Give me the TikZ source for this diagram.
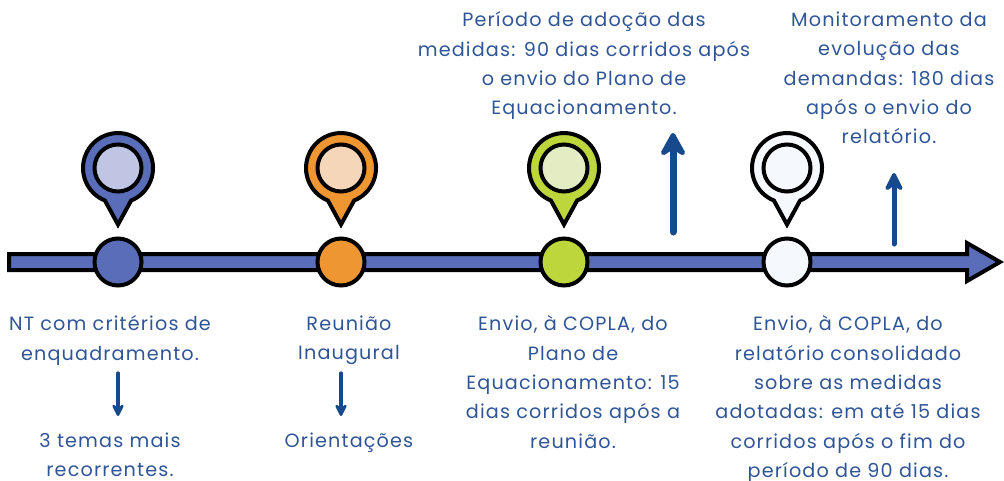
\documentclass[tikz,border=0pt]{standalone}
\usepackage{fontspec}
\setmainfont[LetterSpace=6]{Poppins}
\usetikzlibrary{arrows.meta}
\definecolor{axisblue}{HTML}{5A6DB8}
\definecolor{lightblue}{HTML}{BFC5E3}
\definecolor{orangec}{HTML}{EE9632}
\definecolor{lightorange}{HTML}{F5D6B8}
\definecolor{greenc}{HTML}{BCD63C}
\definecolor{lightgreen}{HTML}{E4ECC4}
\definecolor{whitec}{HTML}{F5F9FD}
\definecolor{txtblue}{HTML}{2F5597}
\definecolor{arrowblue}{HTML}{174A8C}
\tikzset{
  x=1pt,y=-1pt,
  label text/.style={inner sep=0pt,align=center,text=txtblue,anchor=north,font=\fontsize{19.2}{29.4}\selectfont},
  dot/.style={circle,draw=black,line width=4pt,minimum size=47pt,inner sep=0pt,fill=#1},
  inner dot/.style={circle,draw=black,line width=4pt,minimum size=47pt,inner sep=0pt,fill=#1},
  flow small/.style={draw=arrowblue,line width=3.2pt,line cap=round,-{Stealth[round,length=15pt,width=15pt,inset=5pt]}},
  flow mid/.style={draw=arrowblue,line width=5pt,line cap=round,-{Stealth[round,length=23pt,width=23pt,inset=8pt]}},
  flow big/.style={draw=arrowblue,line width=7pt,line cap=round,-{Stealth[round,length=29pt,width=32pt,inset=10pt]}},
  pin/.style={draw=black,line width=4pt,miter limit=10,fill=#1},
}
\newcommand{\pinshape}[2]{%
  \path[pin=#2] (#1-13.1,200.5) arc[start angle=248,end angle=-68,x radius=35,y radius=-35] -- (#1,224.5) -- cycle;
}
\begin{document}
\begin{tikzpicture}
\useasboundingbox (0,0) rectangle (1004,480);
% axis
\path[draw=black,line width=4pt,fill=axisblue,miter limit=10]
  (9,254) -- (967,254) -- (967,243) -- (1000,262) -- (967,281) -- (967,270) -- (9,270) -- cycle;
% pins
\pinshape{118}{axisblue}
\pinshape{341}{orangec}
\pinshape{564}{greenc}
\pinshape{787}{whitec}
\node[inner dot=lightblue] (p1) at (118,168) {};
\node[inner dot=lightorange] (p2) at (341,168) {};
\node[inner dot=lightgreen] (p3) at (564,168) {};
\node[inner dot=whitec] (p4) at (787,168) {};
% axis dots
\node[dot=axisblue] (d1) at (118,262) {};
\node[dot=orangec] (d2) at (341,262) {};
\node[dot=greenc] (d3) at (564,262) {};
\node[dot=whitec] (d4) at (787,262) {};
% texts
\node[label text] (t1) at (110,315.5) {NT com critérios de\\enquadramento.};
\node[label text] (t1b) at (110,432.5) {3 temas mais\\recorrentes.};
\node[label text] (t2) at (349,315.5) {Reunião\\Inaugural};
\node[label text] (t2b) at (349,432.5) {Orientações};
\node[label text] (t3) at (573,315.5) {Envio, à COPLA, do\\Plano de\\Equacionamento: 15\\dias corridos após a\\reunião.};
\node[label text] (t4) at (848,315.5) {Envio, à COPLA, do\\relatório consolidado\\sobre as medidas\\adotadas: em até 15 dias\\corridos após o fim do\\período de 90 dias.};
\node[label text] (t5) at (584,11.5) {Período de adoção das\\medidas: 90 dias corridos após\\o envio do Plano de\\Equacionamento.};
\node[label text] (t6) at (889,11.5) {Monitoramento da\\evolução das\\demandas: 180 dias\\após o envio do\\relatório.};
% arrows
\coordinate (a1s) at (118,373); \coordinate (a1e) at (118,416);
\coordinate (a2s) at (341,373); \coordinate (a2e) at (341,416);
\coordinate (a3s) at (673,232); \coordinate (a3e) at (673,133);
\coordinate (a4s) at (894,244); \coordinate (a4e) at (894,173);
\draw[flow small] (a1s) -- (a1e);
\draw[flow small] (a2s) -- (a2e);
\draw[flow big] (a3s) -- (a3e);
\draw[flow mid] (a4s) -- (a4e);
\end{tikzpicture}
\end{document}
